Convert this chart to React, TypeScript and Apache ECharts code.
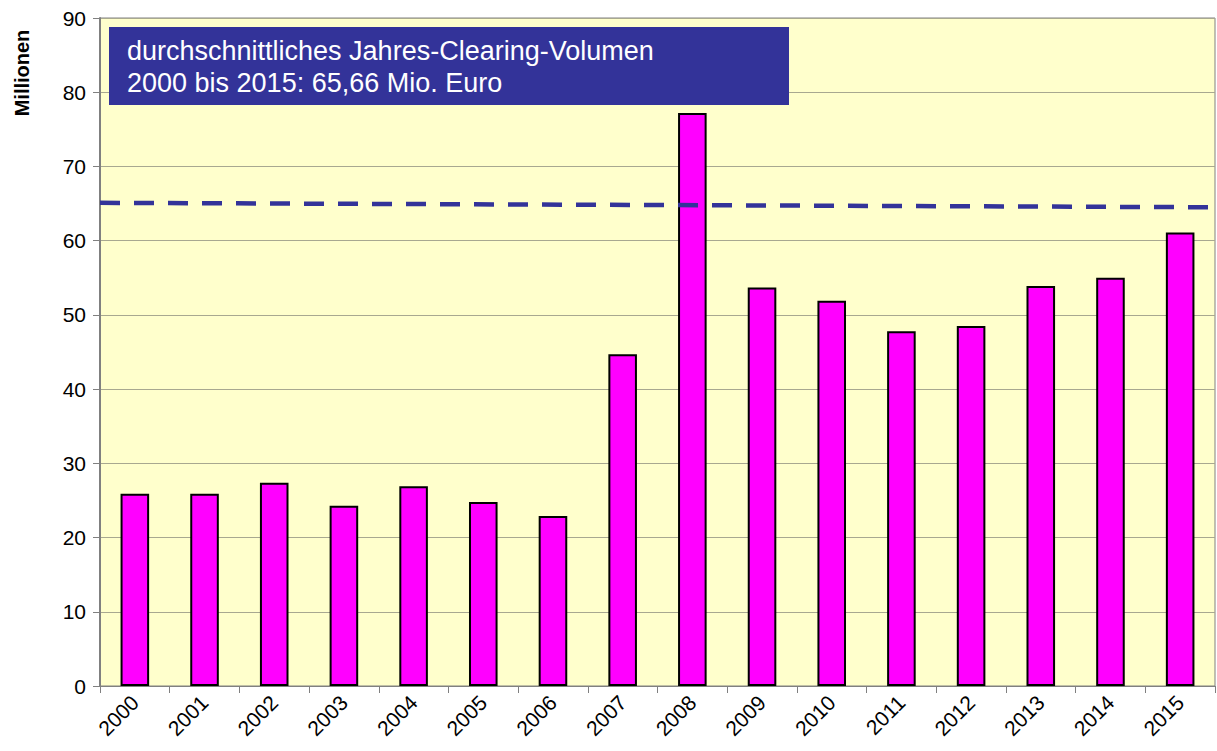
import React, { useEffect, useRef } from "react";
import * as echarts from "echarts";

const years = ["2000","2001","2002","2003","2004","2005","2006","2007","2008","2009","2010","2011","2012","2013","2014","2015"];
const volumes = [25.9, 25.9, 27.4, 24.3, 26.9, 24.8, 22.9, 44.7, 77.2, 53.7, 51.9, 47.8, 48.5, 53.9, 55.0, 61.1];
const avgLine = [[0, 65.1], [1, 64.5]];
const boxLines = ["durchschnittliches Jahres-Clearing-Volumen", "2000 bis 2015: 65,66 Mio. Euro"];

export default function App() {
  const ref = useRef<HTMLDivElement>(null);
  useEffect(() => {
    const chart = echarts.init(ref.current!, null, { renderer: "svg" });
    const font = "'Liberation Sans', Arial, sans-serif";
    chart.setOption({
      animation: false,
      backgroundColor: "#ffffff",
      grid: { left: 100, right: 2, top: 18, bottom: 65, backgroundColor: "#FFFFCC", show: true, borderColor: "#808080", borderWidth: 1 },
      xAxis: [
        {
          type: "category",
          data: years,
          axisLine: { lineStyle: { color: "#808080", width: 1 } },
          axisTick: { show: true, length: 7, lineStyle: { color: "#808080" } },
          axisLabel: { rotate: 45, color: "#000", fontFamily: font, fontSize: 21, margin: 13 },
        },
        { type: "value", min: 0, max: 1, show: false },
      ],
      yAxis: {
        type: "value",
        min: 0,
        max: 90,
        interval: 10,
        axisLine: { show: true, lineStyle: { color: "#808080", width: 2 } },
        axisTick: { show: true, length: 7, lineStyle: { color: "#808080" } },
        axisLabel: { color: "#000", fontFamily: font, fontSize: 21, margin: 14 },
        splitLine: { lineStyle: { color: "#A8A890", width: 1 } },
      },
      series: [
        {
          type: "bar",
          data: volumes,
          barWidth: "41%",
          itemStyle: { color: "#FF00FF", borderColor: "#000", borderWidth: 2 },
        },
        {
          type: "line",
          xAxisIndex: 1,
          data: avgLine,
          symbol: "none",
          lineStyle: { color: "#333399", width: 4.5, type: [20, 14] },
        },
      ],
      graphic: [
        {
          type: "rect",
          shape: { x: 109, y: 27, width: 680, height: 78 },
          style: { fill: "#333399" },
          z: 10,
        },
        {
          type: "text",
          x: 127,
          y: 35,
          style: { text: boxLines.join("\n"), fill: "#ffffff", fontFamily: font, fontSize: 27, lineHeight: 32 },
          z: 11,
        },
        {
          type: "text",
          x: 22,
          y: 73,
          rotation: Math.PI / 2,
          style: { text: "Millionen", fill: "#000", fontFamily: font, fontWeight: "bold", fontSize: 20, align: "center", verticalAlign: "middle" },
        },
      ],
    });
    return () => chart.dispose();
  }, []);
  return <div ref={ref} style={{ position: "fixed", left: 0, top: 0, width: 1217, height: 751 }} />;
}
